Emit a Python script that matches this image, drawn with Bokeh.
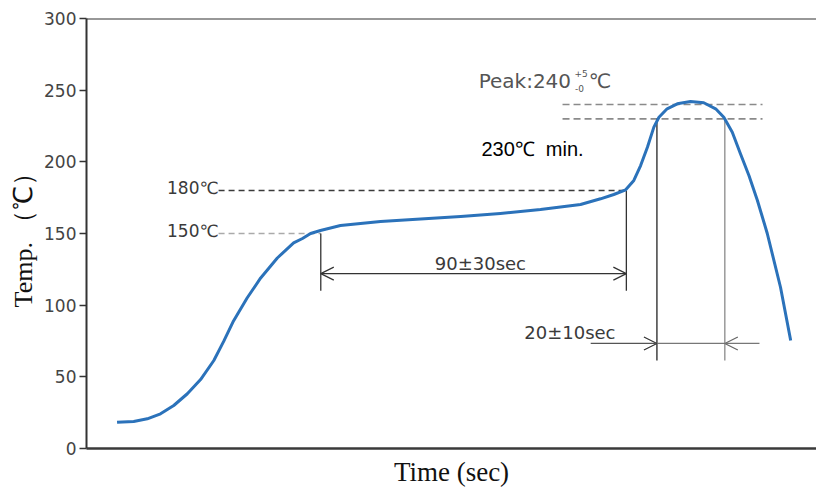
from bokeh.plotting import figure
from bokeh.models import Range1d, Span, Arrow, OpenHead, FixedTicker, Label
from bokeh.embed import file_html
from bokeh.resources import INLINE

# ---- data ----
time_s = [9.0, 13.9, 17.9, 21.8, 25.7, 29.7, 33.6, 37.5, 40.4, 43.3, 47.3, 51.3,
          56.2, 61.0, 63.6, 66.0, 68.9, 74.8, 86.6, 98.4, 110.2, 121.9, 133.7,
          145.5, 151.4, 155.3, 158.8, 161.2, 163.2, 165.2, 167.1, 168.6, 171.0,
          174.0, 177.9, 181.8, 185.3, 187.7, 190.2, 192.6, 195.1, 197.6, 200.5,
          204.4, 207.4]
temp_c = [18.3, 18.8, 20.7, 24.2, 30.0, 38.2, 48.1, 61.4, 74.7, 89.0, 105.0, 119.0,
          132.9, 143.4, 146.5, 150.0, 152.1, 155.6, 158.4, 160.1, 161.9, 164.0, 166.7,
          170.2, 174.2, 177.2, 180.5, 187.0, 197.4, 210.2, 224.2, 231.1, 237.0,
          240.5, 242.1, 241.2, 237.0, 231.1, 220.7, 205.6, 190.5, 173.0, 150.0,
          112.5, 75.3]

y_ticks = [0, 50, 100, 150, 200, 250, 300]

T_SOAK_MIN = 150
T_SOAK_MAX = 180
T_LIQ = 230
T_PEAK = 240
SOAK_START = 69
SOAK_END = 159
LIQ_START = 168
LIQ_END = 188

label_soak_min = "150℃"
label_soak_max = "180℃"
label_soak = "90±30sec"
label_liq = "20±10sec"
label_liq_min = "230℃ \u00a0min."
label_peak = "Peak:240"

# ---- figure ----
p = figure(width=816, height=490, output_backend="svg", toolbar_location=None,
           x_range=Range1d(0, 215), y_range=Range1d(0, 300),
           min_border_left=86, min_border_right=0, min_border_top=18,
           min_border_bottom=42)
p.background_fill_color = "white"
p.border_fill_color = "white"
p.outline_line_color = None
p.xgrid.visible = False
p.ygrid.visible = False

ax = p.xaxis[0]
ax.ticker = FixedTicker(ticks=[])
ax.major_tick_line_color = None
ax.minor_tick_line_color = None
ax.axis_line_color = "#3a3a3a"
ax.axis_line_width = 2.5
ax.axis_label = "Time (sec)"
ax.axis_label_text_font = "Liberation Serif"
ax.axis_label_text_font_size = "27px"
ax.axis_label_text_font_style = "normal"
ax.axis_label_text_color = "#111111"
ax.axis_label_standoff = 8

ay = p.yaxis[0]
ay.ticker = FixedTicker(ticks=y_ticks)
ay.major_tick_in = 0
ay.major_tick_out = 7
ay.minor_tick_line_color = None
ay.major_tick_line_color = "#333333"
ay.major_tick_line_width = 1.5
ay.axis_line_color = "#333333"
ay.axis_line_width = 2
ay.major_label_text_font = "DejaVu Sans"
ay.major_label_text_font_size = "17px"
ay.major_label_text_color = "#444444"
ay.major_label_standoff = 3
ay.axis_label = "Temp. （℃）"
ay.axis_label_text_font = "Liberation Serif"
ay.axis_label_text_font_size = "26px"
ay.axis_label_text_font_style = "normal"
ay.axis_label_text_color = "#111111"
ay.axis_label_standoff = 3

p.add_layout(Span(location=300, dimension="width", line_color="#333333", line_width=2))

# reference lines
LBL_X = 38.9
p.segment(x0=[LBL_X], y0=[T_SOAK_MIN], x1=[SOAK_START], y1=[T_SOAK_MIN],
          line_color="#aaaaaa", line_width=1.6, line_dash="6 4")
p.segment(x0=[LBL_X], y0=[T_SOAK_MAX], x1=[SOAK_END], y1=[T_SOAK_MAX],
          line_color="#3a3a3a", line_width=1.6, line_dash="6 4")
p.segment(x0=[140.2, 140.2], y0=[T_PEAK, T_LIQ], x1=[199.1, 199.1], y1=[T_PEAK, T_LIQ],
          line_color="#8a8a8a", line_width=1.6, line_dash="7 4")

# soak dimension
p.segment(x0=[SOAK_START, SOAK_END], y0=[T_SOAK_MIN, T_SOAK_MAX],
          x1=[SOAK_START, SOAK_END], y1=[110, 110], line_color="#333333", line_width=1.3)
p.add_layout(Arrow(start=OpenHead(size=13, line_color="#333333", line_width=1.2),
                   end=OpenHead(size=13, line_color="#333333", line_width=1.2),
                   x_start=SOAK_START, y_start=122, x_end=SOAK_END, y_end=122,
                   line_color="#333333", line_width=1.2))

# liquidus dimension
p.segment(x0=[LIQ_START], y0=[T_LIQ], x1=[LIQ_START], y1=[61.4],
          line_color="#333333", line_width=1.4)
p.segment(x0=[LIQ_END], y0=[T_LIQ], x1=[LIQ_END], y1=[61.4],
          line_color="#8a8a8a", line_width=1.3)
p.segment(x0=[LIQ_START], y0=[73.3], x1=[LIQ_END], y1=[73.3],
          line_color="#777777", line_width=1.2)
p.add_layout(Arrow(end=OpenHead(size=13, line_color="#333333", line_width=1.2),
                   x_start=148.5, y_start=73.3, x_end=LIQ_START, y_end=73.3,
                   line_color="#555555", line_width=1.2))
p.add_layout(Arrow(end=OpenHead(size=13, line_color="#666666", line_width=1.2),
                   x_start=198.2, y_start=73.3, x_end=LIQ_END, y_end=73.3,
                   line_color="#777777", line_width=1.2))

# profile curve
p.line(time_s, temp_c, line_color="#2b72ba", line_width=3, line_join="round")

# texts
def lab(x, y, text, size, color="#3a3a3a", font="DejaVu Sans", align="left"):
    p.add_layout(Label(x=x, y=y, text=text, text_font=font, text_font_size=size,
                       text_color=color, text_align=align, text_baseline="middle"))

lab(LBL_X, 181.4, label_soak_max, "17px", align="right")
lab(LBL_X, T_SOAK_MIN + 1.5, label_soak_min, "17px", align="right")
lab(116, 129, label_soak, "18px", align="center")
lab(155.8, 80.9, label_liq, "18px", align="right")
lab(116.3, 209.3, label_liq_min, "20px", color="#000000", font="Liberation Sans")
lab(115.5, 256.7, label_peak, "20px", color="#555555")
lab(143.7, 261.8, "+5", "9px", color="#555555")
lab(143.9, 251.4, "-0", "9px", color="#555555")
lab(147.9, 256.7, "℃", "20px", color="#555555")

open("out.html", "w").write(file_html(p, INLINE))
